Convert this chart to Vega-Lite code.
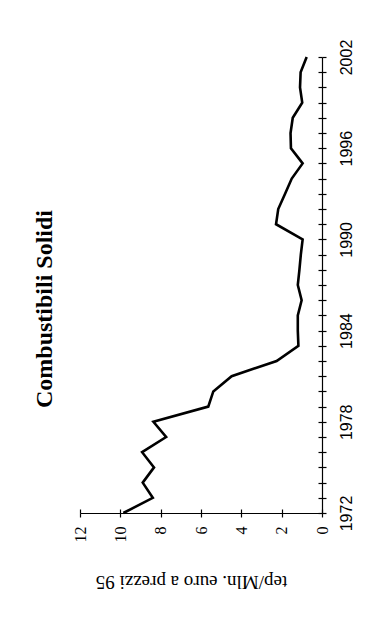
{
  "$schema": "https://vega.github.io/schema/vega-lite/v6.json",
  "autosize": "none",
  "width": 242,
  "height": 456,
  "padding": {"left": 80, "top": 57, "right": 68, "bottom": 111},
  "background": "white",
  "config": {"view": {"stroke": null}, "axis": {"grid": false, "domainColor": "black", "tickColor": "black", "domainWidth": 1.2, "tickWidth": 1.2}},
  "title": {"text": "Combustibili Solidi", "orient": "left", "anchor": "middle", "font": "Liberation Serif", "fontSize": 24, "fontWeight": "bold", "color": "black", "offset": 15, "dx": -24},
  "data": {"values": [
    {"year": 1972, "v": 9.85}, {"year": 1973, "v": 8.39}, {"year": 1974, "v": 8.89}, {"year": 1975, "v": 8.33},
    {"year": 1976, "v": 8.92}, {"year": 1977, "v": 7.73}, {"year": 1978, "v": 8.36}, {"year": 1979, "v": 5.64},
    {"year": 1980, "v": 5.39}, {"year": 1981, "v": 4.48}, {"year": 1982, "v": 2.25}, {"year": 1983, "v": 1.17},
    {"year": 1984, "v": 1.2}, {"year": 1985, "v": 1.2}, {"year": 1986, "v": 1.01}, {"year": 1987, "v": 1.2},
    {"year": 1988, "v": 1.12}, {"year": 1989, "v": 1.05}, {"year": 1990, "v": 0.96}, {"year": 1991, "v": 2.28},
    {"year": 1992, "v": 2.17}, {"year": 1993, "v": 1.83}, {"year": 1994, "v": 1.5}, {"year": 1995, "v": 0.96},
    {"year": 1996, "v": 1.54}, {"year": 1997, "v": 1.56}, {"year": 1998, "v": 1.45}, {"year": 1999, "v": 0.98},
    {"year": 2000, "v": 1.09}, {"year": 2001, "v": 1.06}, {"year": 2002, "v": 0.76}
  ]},
  "layer": [
    {
      "mark": {"type": "line", "color": "black", "strokeWidth": 2.6, "strokeJoin": "miter"},
      "encoding": {
        "order": {"field": "year", "type": "quantitative"},
        "x": {"field": "v", "type": "quantitative", "scale": {"domain": [0, 12], "reverse": true, "nice": false, "zero": false},
          "axis": {"orient": "bottom", "values": [0, 2, 4, 6, 8, 10, 12], "tickSize": 4, "labelAngle": -90, "labelAlign": "right", "labelBaseline": "middle", "labelPadding": 9, "labelFont": "Liberation Serif", "labelFontSize": 16, "labelColor": "black",
            "title": "tep/Mln. euro a prezzi 95", "titleAngle": 180, "titleFont": "Liberation Serif", "titleFontSize": 19, "titleFontWeight": "normal", "titleColor": "black", "titleX": 111, "titleY": 68, "titleAlign": "center", "titleBaseline": "middle"}},
        "y": {"field": "year", "type": "quantitative", "scale": {"domain": [1972, 2002], "nice": false, "zero": false},
          "axis": {"orient": "right", "values": [1972,1973,1974,1975,1976,1977,1978,1979,1980,1981,1982,1983,1984,1985,1986,1987,1988,1989,1990,1991,1992,1993,1994,1995,1996,1997,1998,1999,2000,2001,2002],
            "format": "d", "labelExpr": "(datum.value - 1972) % 6 == 0 ? datum.label : ''", "tickSize": 4, "labelAngle": -90, "labelAlign": "center", "labelBaseline": "top", "labelPadding": 12, "labelFont": "Liberation Sans", "labelFontSize": 16, "labelColor": "black", "labelOverlap": false, "labelBound": false, "labelFlush": false, "title": null}}
      }
    },
    {
      "mark": {"type": "line", "opacity": 0},
      "encoding": {
        "order": {"field": "year", "type": "quantitative"},
        "x": {"field": "v", "type": "quantitative",
          "axis": {"orient": "bottom", "offset": -4, "values": [0, 2, 4, 6, 8, 10, 12], "tickSize": 4, "labels": false, "domain": false, "title": null}},
        "y": {"field": "year", "type": "quantitative",
          "axis": {"orient": "right", "offset": -4, "values": [1972,1973,1974,1975,1976,1977,1978,1979,1980,1981,1982,1983,1984,1985,1986,1987,1988,1989,1990,1991,1992,1993,1994,1995,1996,1997,1998,1999,2000,2001,2002], "tickSize": 4, "labels": false, "domain": false, "title": null}}
      }
    }
  ],
  "resolve": {"axis": {"x": "independent", "y": "independent"}}
}
